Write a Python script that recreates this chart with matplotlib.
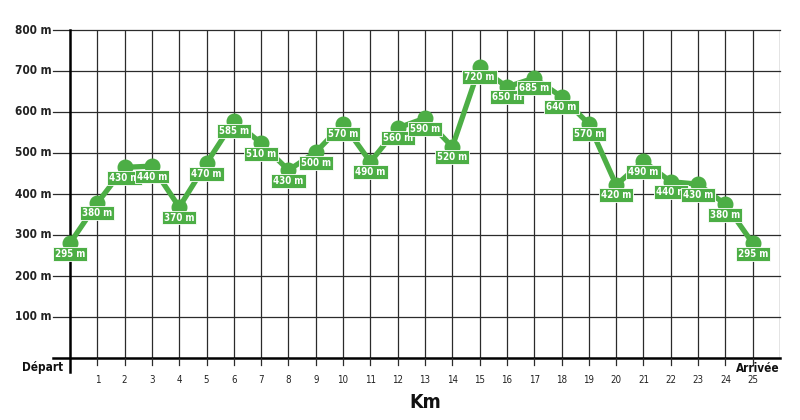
import matplotlib
matplotlib.use("Agg")
import matplotlib.pyplot as plt
from matplotlib import font_manager as fm

km = list(range(0, 26))
# elevations as drawn (read from the profile)
elevation = [280, 378, 465, 468, 368, 475, 578, 524, 458, 502, 571, 478, 561, 585,
             515, 710, 661, 683, 637, 571, 422, 480, 430, 424, 375, 280]
# labels as printed on the chart
labels = ["295 m", "380 m", "430 m", "440 m", "370 m", "470 m", "585 m", "510 m", "430 m",
          "500 m", "570 m", "490 m", "560 m", "590 m", "520 m", "720 m", "650 m", "685 m",
          "640 m", "570 m", "420 m", "490 m", "440 m", "430 m", "380 m", "295 m"]
y_ticks = [100, 200, 300, 400, 500, 600, 700, 800]
y_tick_labels = [f"{v} m" for v in y_ticks]
x_ticks = list(range(1, 26))

GREEN = "#4cae45"
GRID = "#2b2b2b"

# pick a condensed face if one is installed
cond = None
for f in fm.fontManager.ttflist:
    if f.stretch in ("condensed", "semi-condensed", "extra-condensed") or \
       "Narrow" in f.name or "Condensed" in f.name:
        cond = f
        break
if cond is not None:
    FONT = [cond.name, "DejaVu Sans"]
    STRETCH = cond.stretch
    scale = 1.0
else:
    FONT = ["DejaVu Sans"]
    STRETCH = "normal"
    scale = 0.85

fig = plt.figure(figsize=(8, 4.2), dpi=100)
ax = fig.add_axes([70/800, 1 - 358/420, 710/800, 328/420])
ax.set_xlim(0, 26)
ax.set_ylim(0, 800)

# grid
for x in range(1, 27):
    ax.axvline(x, color=GRID, lw=0.9, zorder=1)
for y in y_ticks:
    ax.plot([-17/27.3, 26], [y, y], color=GRID, lw=0.9, zorder=1, clip_on=False)
# baseline and start axis
ax.plot([-17/27.3, 26], [0, 0], color="black", lw=1.8, zorder=2, clip_on=False)
ax.plot([0, 0], [-14*800/328, 800], color="black", lw=1.8, zorder=2, clip_on=False)
# small ticks below baseline
for x in x_ticks:
    ax.plot([x, x], [0, -7*800/328], color=GRID, lw=0.9, clip_on=False)

for s in ax.spines.values():
    s.set_visible(False)
ax.set_xticks([])
ax.set_yticks([])

for y, lab in zip(y_ticks, y_tick_labels):
    ax.text(-18/27.3, y, lab, ha="right", va="center", fontsize=8.5*scale,
            family=FONT, fontstretch=STRETCH, fontweight="semibold", color="#222222")
for x in x_ticks:
    ax.text(x, -22*800/328, str(x), ha="center", va="center", fontsize=7*scale,
            family=FONT, fontstretch=STRETCH, color="#222222")
ax.text(-0.25, -10*800/328, "Départ", ha="right", va="center", fontsize=8.5*scale,
        family=FONT, fontstretch=STRETCH, fontweight="bold", color="#111111")
ax.text(26, -10*800/328, "Arrivée", ha="right", va="center", fontsize=8.5*scale,
        family=FONT, fontstretch=STRETCH, fontweight="bold", color="#111111")
ax.text(13.0, -44*800/328, "Km", ha="center", va="center", fontsize=14,
        family=FONT, fontstretch=STRETCH, fontweight="bold", color="#111111")

ax.plot(km, elevation, color=GREEN, lw=3.8, marker="o", markersize=10.5,
        solid_joinstyle="round", zorder=5, clip_on=False)

for x, y, lab in zip(km, elevation, labels):
    ax.annotate(lab, xy=(x, y), xytext=(0, -7.5), textcoords="offset points",
                ha="center", va="center", fontsize=7*scale, family=FONT,
                fontstretch=STRETCH, fontweight="bold", color="white", zorder=6,
                bbox=dict(boxstyle="square,pad=0.2", fc=GREEN, ec="white", lw=0.6))

fig.savefig("out.png", dpi=100, facecolor="white")
